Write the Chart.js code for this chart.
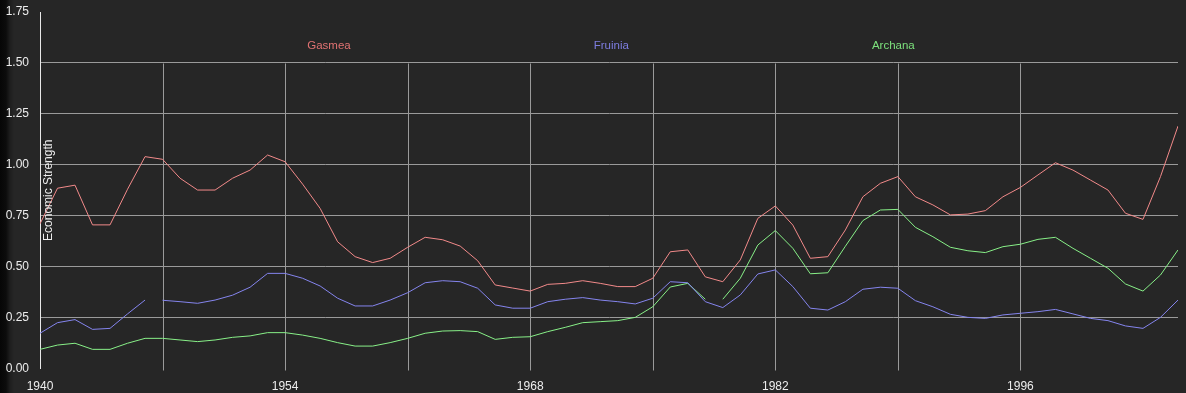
<!DOCTYPE html>
<html><head><meta charset="utf-8">
<script src="https://cdn.jsdelivr.net/npm/chart.js@4"></script>
<style>
html,body{margin:0;padding:0;background:#262626;}
#wrap{width:1186px;height:393px;background:linear-gradient(to right,#060606 0px,#0c0c0c 6px,#1e1e1e 10px,#262626 14px,#262626 100%);}
canvas{display:block;}
</style></head><body>
<div id="wrap"><canvas id="c" width="1186" height="393"></canvas></div>
<script>
const years = [1940,1941,1942,1943,1944,1945,1946,1947,1948,1949,1950,1951,1952,1953,1954,1955,1956,1957,1958,1959,1960,1961,1962,1963,1964,1965,1966,1967,1968,1969,1970,1971,1972,1973,1974,1975,1976,1977,1978,1979,1980,1981,1982,1983,1984,1985,1986,1987,1988,1989,1990,1991,1992,1993,1994,1995,1996,1997,1998,1999,2000,2001,2002,2003,2004,2005];
const seriesNames = ["Gasmea","Fruinia","Archana"];
const gasmea = [0.71,0.885,0.90,0.705,0.705,0.88,1.04,1.027,0.934,0.876, 0.876,0.934,0.974,1.048,1.015,0.905,0.786,0.622,0.549,0.52, 0.541,0.595,0.644,0.632,0.601,0.529,0.41,0.395,0.38,0.413, 0.418,0.431,0.418,0.402,0.402,0.443,0.573,0.582,0.45,0.426, 0.533,0.737,0.798,0.704,0.541,0.549,0.68,0.843,0.909,0.942, 0.843,0.803,0.754,0.758,0.775,0.843,0.889,0.95,1.01,0.974, 0.925,0.876,0.762,0.732,0.942,1.19];
const fruinia = [0.173,0.225,0.24,0.192,0.197,0.268,0.336,0.335,0.328,0.32, 0.336,0.36,0.399,0.467,0.467,0.443,0.405,0.345,0.307,0.307, 0.336,0.372,0.421,0.431,0.426,0.394,0.312,0.296,0.296,0.328, 0.34,0.348,0.336,0.328,0.317,0.345,0.426,0.421,0.328,0.299, 0.361,0.464,0.484,0.402,0.296,0.287,0.328,0.389,0.399,0.394, 0.333,0.303,0.266,0.251,0.246,0.263,0.271,0.279,0.29,0.268, 0.246,0.235,0.209,0.197,0.251,0.336];
const archana = [0.094,0.115,0.124,0.094,0.094,0.124,0.148,0.148,0.14,0.132, 0.14,0.153,0.16,0.176,0.176,0.164,0.148,0.127,0.11,0.11, 0.127,0.148,0.173,0.184,0.186,0.181,0.143,0.153,0.156,0.181, 0.202,0.225,0.23,0.235,0.251,0.303,0.40,0.418,0.34,0.34, 0.443,0.606,0.677,0.59,0.465,0.47,0.60,0.726,0.778,0.781, 0.693,0.647,0.595,0.578,0.569,0.598,0.61,0.634,0.644,0.59, 0.541,0.492,0.415,0.38,0.459,0.582];
// year at which a segment (year -> next year) is missing
const fruiniaBreaks = [1946];
const archanaBreaks = [1978];
const xTickYears = [1940,1947,1954,1961,1968,1975,1982,1989,1996];
const xLabelYears = [1940,1954,1968,1982,1996];
const yTicks = [0,0.25,0.5,0.75,1.0,1.25,1.5,1.75];
const yTitle = "Economic Strength";

const lineColors = ["#f28a8a","#8585ee","#88f088"];
const legendColors = ["#e07272","#7d7de0","#7ce07c"];
const gridColor = "#9a9a9a";
const textColor = "#ededed";
const FONT = "'Liberation Sans', Arial, sans-serif";

function pts(vals){ return years.map((y,i)=>({x:y, y:vals[i]})); }
function seg(breaks){ return { borderColor: c => breaks.includes(years[c.p0DataIndex]) ? 'rgba(0,0,0,0)' : undefined }; }

const vGridPlugin = {
  id:'vGrid',
  beforeDatasetsDraw(chart){
    const {ctx, chartArea:a, scales:{x,y}} = chart;
    const top = y.getPixelForValue(yTicks[yTicks.length-2]);
    ctx.save(); ctx.strokeStyle = gridColor; ctx.lineWidth = 1;
    xTickYears.slice(1).forEach(v=>{
      const px = Math.round(x.getPixelForValue(v))+0.5;
      ctx.beginPath(); ctx.moveTo(px, Math.round(top)+0.5); ctx.lineTo(px, a.bottom+2); ctx.stroke();
    });
    ctx.restore();
  }
};
const overlayPlugin = {
  id:'overlay',
  afterDraw(chart){
    const {ctx, chartArea:a} = chart;
    ctx.save();
    ctx.font = "11.5px " + FONT;
    ctx.textBaseline = 'middle';
    ctx.textAlign = 'left';
    const gap = 243;
    const widths = seriesNames.map(n=>ctx.measureText(n).width);
    const total = widths.reduce((s,w)=>s+w,0) + gap*(seriesNames.length-1);
    let lx = (a.left+a.right)/2 + 2 - total/2;
    const ly = a.top + 34;
    seriesNames.forEach((n,i)=>{ ctx.fillStyle = legendColors[i]; ctx.fillText(n, lx, ly); lx += widths[i] + gap; });
    ctx.font = "12px " + FONT;
    ctx.fillStyle = textColor;
    ctx.textAlign = 'center';
    ctx.translate(a.left + 9, (a.top+a.bottom)/2);
    ctx.rotate(-Math.PI/2);
    ctx.fillText(yTitle, 0, 0);
    ctx.restore();
  }
};

new Chart(document.getElementById('c'), {
  type:'line',
  data:{ datasets:[
    {label:seriesNames[0], data:pts(gasmea), borderColor:lineColors[0], borderWidth:1, pointRadius:0, tension:0},
    {label:seriesNames[1], data:pts(fruinia), borderColor:lineColors[1], borderWidth:1, pointRadius:0, tension:0, segment:seg(fruiniaBreaks)},
    {label:seriesNames[2], data:pts(archana), borderColor:lineColors[2], borderWidth:1, pointRadius:0, tension:0, segment:seg(archanaBreaks)}
  ]},
  options:{
    responsive:false, animation:false, devicePixelRatio:1,
    layout:{padding:{left:0,right:8,top:12,bottom:0}},
    plugins:{legend:{display:false}, tooltip:{enabled:false}},
    scales:{
      x:{type:'linear', min:years[0], max:years[years.length-1],
        afterBuildTicks: s => { s.ticks = xTickYears.map(v=>({value:v})); },
        afterFit: s => { s.height = 24.5; s.paddingLeft = 0; s.paddingRight = 0; },
        grid:{display:false}, border:{display:false},
        ticks:{autoSkip:false, maxRotation:0, padding:3, color:textColor, font:{family:FONT,size:12},
          callback: v => xLabelYears.includes(v) ? String(v) : ''}
      },
      y:{min:yTicks[0], max:yTicks[yTicks.length-1],
        afterBuildTicks: s => { s.ticks = yTicks.map(v=>({value:v})); },
        afterFit: s => { s.width = 40; s.paddingTop = 0; s.paddingBottom = 0; },
        grid:{drawTicks:false, color: c => (c.tick && (c.tick.value===yTicks[0] || c.tick.value===yTicks[yTicks.length-1])) ? 'rgba(0,0,0,0)' : gridColor},
        border:{display:true, color:'#e8e8e8', width:1},
        ticks:{padding:11, color:textColor, font:{family:FONT,size:12}, callback: v => Number(v).toFixed(2)}
      }
    }
  },
  plugins:[vGridPlugin, overlayPlugin]
});
</script>
</body></html>
